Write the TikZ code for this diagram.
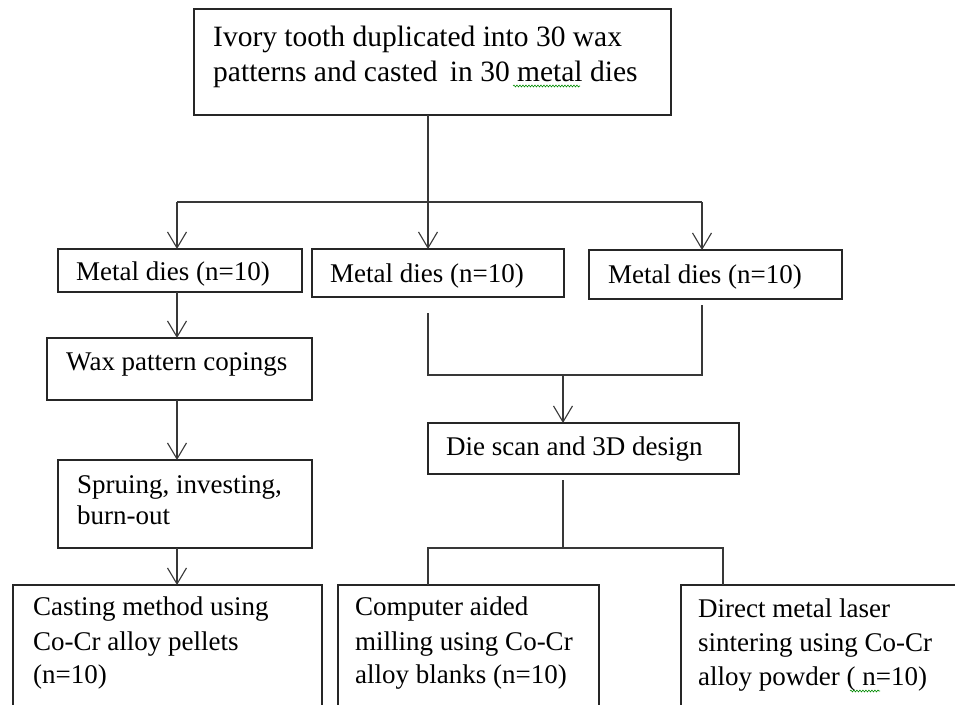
\documentclass[tikz,border=0pt]{standalone}
\usepackage{fontspec}
\setmainfont{Liberation Serif}
\usetikzlibrary{arrows.meta,decorations.pathmorphing}
\begin{document}
\begin{tikzpicture}[x=1pt,y=-1pt,
  box/.style={draw=black!85, line width=1.3pt, anchor=north west, inner sep=0pt, outer sep=0pt},
  txt/.style={anchor=base west, inner sep=0pt, font=\fontsize{27}{34}\selectfont},
  bigtxt/.style={txt, font=\fontsize{29.5}{35}\selectfont},
  conn/.style={draw=black!78, line width=1.2pt},
  arr/.style={conn, -{Straight Barb[length=16pt,width=19pt,line width=1.1pt]}},
  squig/.style={draw=green!55!black, line width=0.6pt, decorate, decoration={snake, amplitude=0.9pt, segment length=3pt}}]
\useasboundingbox (0,0) rectangle (955,704);
\clip (0,0) rectangle (955,704);
\fill[white] (0,0) rectangle (955,704);
% boxes
\node[box, minimum width=477pt, minimum height=106pt] (top) at (194,9) {};
\node[box, minimum width=244pt, minimum height=43pt] (m1) at (58,249) {};
\node[box, minimum width=252pt, minimum height=48pt] (m2) at (312,249) {};
\node[box, minimum width=253pt, minimum height=49pt] (m3) at (589,250) {};
\node[box, minimum width=265pt, minimum height=62pt] (wax) at (47,338) {};
\node[box, minimum width=254pt, minimum height=88pt] (spr) at (58,460) {};
\node[box, minimum width=311pt, minimum height=51pt] (die) at (428,423) {};
\node[box, minimum width=309pt, minimum height=140pt] (cast) at (13,585) {};
\node[box, minimum width=261pt, minimum height=140pt] (comp) at (338,585) {};
\node[box, minimum width=300pt, minimum height=140pt] (dir) at (681,585) {};
% texts
\node[bigtxt] (t1) at (213,46) {Ivory tooth duplicated into 30 wax};
\node[bigtxt] (t2) at (213,81) {patterns and casted\, in 30 metal dies};
\node[txt] (tm1) at (76,280) {Metal dies (n=10)};
\node[txt] (tm2) at (330,282) {Metal dies (n=10)};
\node[txt] (tm3) at (608,283) {Metal dies (n=10)};
\node[txt] (twax) at (66,370) {Wax pattern copings};
\node[txt] (ts1) at (77,493) {Spruing, investing,};
\node[txt] (ts2) at (77,524) {burn-out};
\node[txt] (tdie) at (446,455) {Die scan and 3D design};
\node[txt] (tc1) at (33,615) {Casting method using};
\node[txt] (tc2) at (33,650) {Co-Cr alloy pellets};
\node[txt] (tc3) at (33,683) {(n=10)};
\node[txt] (tp1) at (355,615) {Computer aided};
\node[txt] (tp2) at (355,650) {milling using Co-Cr};
\node[txt] (tp3) at (355,683) {alloy blanks (n=10)};
\node[txt] (td1) at (698,617) {Direct metal laser};
\node[txt] (td2) at (698,651) {sintering using Co-Cr};
\node[txt] (td3) at (698,685) {alloy powder ( n=10)};
% spell-check squiggles
\draw[squig] (513,86) -- (580,86);
\draw[squig] (850,691) -- (880,691);
% connectors
\coordinate (split) at (428,202);
\coordinate (bl) at (177,202);
\coordinate (br) at (702,202);
\draw[conn] (split |- top.south) -- (split);
\draw[conn] (bl) -- (br);
\draw[arr] (bl) -- (bl |- m1.north);
\draw[arr] (split) -- (split |- m2.north);
\draw[arr] (br) -- (br |- m3.north);
\draw[arr] (bl |- m1.south) -- (bl |- wax.north);
\draw[arr] (bl |- wax.south) -- (bl |- spr.north);
\draw[arr] (bl |- spr.south) -- (bl |- cast.north);
\coordinate (m2out) at (428,313);
\coordinate (m3out) at (702,305);
\coordinate (jl) at (428,375);
\coordinate (jr) at (702,375);
\coordinate (jm) at (563,375);
\draw[conn] (m2out) -- (jl) -- (jr) -- (m3out);
\draw[arr] (jm) -- (jm |- die.north);
\coordinate (dieout) at (563,480);
\coordinate (sl) at (428,548);
\coordinate (sr) at (723,548);
\draw[conn] (dieout) -- (dieout |- sl);
\draw[conn] (sl |- comp.north) -- (sl) -- (sr) -- (sr |- dir.north);
\end{tikzpicture}
\end{document}
